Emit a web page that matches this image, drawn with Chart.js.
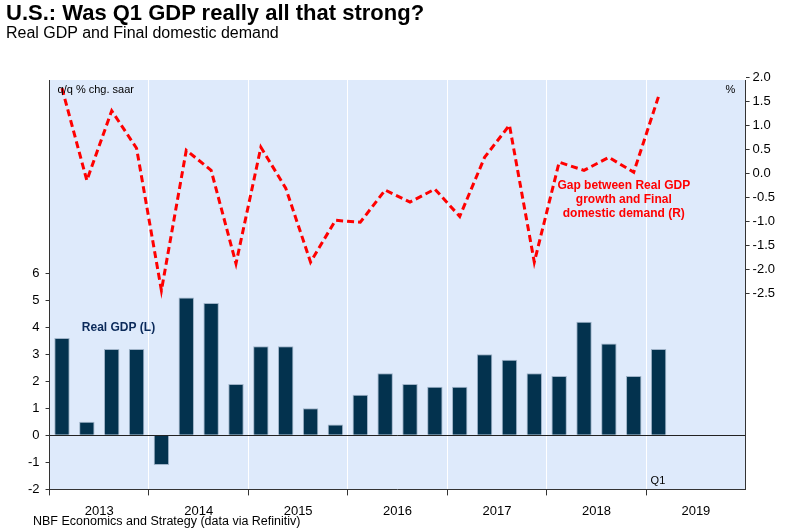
<!DOCTYPE html>
<html><head><meta charset="utf-8">
<script src="https://cdn.jsdelivr.net/npm/chart.js@4"></script>
<style>
body{margin:0;background:#fff;font-family:"Liberation Sans",Arial,sans-serif}
#wrap{position:relative;width:792px;height:532px}
#t{position:absolute;left:6px;top:0px;font-size:22px;font-weight:bold;color:#000}
#s{position:absolute;left:6px;top:24px;font-size:16px;color:#000}
#f{position:absolute;left:33px;top:514px;font-size:12.5px;color:#000}
canvas{position:absolute;left:0;top:0}
</style></head><body>
<div id="wrap">
<canvas id="c" width="792" height="532"></canvas>
<div id="t">U.S.: Was Q1 GDP really all that strong?</div>
<div id="s">Real GDP and Final domestic demand</div>
<div id="f">NBF Economics and Strategy (data via Refinitiv)</div>
</div>
<script>
const years = ['2013', '2014', '2015', '2016', '2017', '2018', '2019']
const quarters = []
years.forEach(y => ['Q1', 'Q2', 'Q3', 'Q4'].forEach(q => quarters.push(y + ' ' + q)))

// real GDP, q/q % chg. saar (2013Q1 - 2019Q1)
const realGdp = [3.6, 0.5, 3.2, 3.2, -1.1, 5.1, 4.9, 1.9, 3.3, 3.3, 1.0, 0.4, 1.5, 2.3, 1.9, 1.8, 1.8, 3.0, 2.8, 2.3, 2.2, 4.2, 3.4, 2.2, 3.2]
// gap between real GDP growth and final domestic demand, %
const gap = [1.77, -0.15, 1.3, 0.52, -2.44, 0.48, 0.06, -1.88, 0.54, -0.31, -1.85, -0.98, -1.02, -0.35, -0.6, -0.33, -0.9, 0.33, 1.0, -1.85, 0.23, 0.06, 0.33, 0.02, 1.6]

const leftTicks = [-2, -1, 0, 1, 2, 3, 4, 5, 6]
const rightTicks = [-2.5, -2.0, -1.5, -1.0, -0.5, 0.0, 0.5, 1.0, 1.5, 2.0]
const yearTicks = [2, 6, 10, 14, 18, 22, 26]

const FONT = '"Liberation Sans", Arial, sans-serif'

const bgPlugin = {
    id: 'bg',
    beforeDraw(chart) {
        const a = chart.chartArea, ctx = chart.ctx
        ctx.save()
        ctx.fillStyle = '#deeafb'
        ctx.fillRect(a.left, a.top, a.right - a.left, a.bottom - a.top)
        ctx.restore()
    },
    afterDraw(chart) {
        const ctx = chart.ctx, a = chart.chartArea
        const x = chart.scales.x, yl = chart.scales.yl
        ctx.save()
        ctx.font = '11px ' + FONT
        ctx.fillStyle = '#000'
        ctx.textBaseline = 'middle'
        ctx.fillText('q/q % chg. saar', a.left + 8, a.top + 10)
        ctx.fillText('%', a.right - 20, a.top + 10)
        ctx.fillText('Q1', x.getPixelForValue(24) - 8, a.bottom - 8)
        ctx.font = 'bold 12px ' + FONT
        ctx.fillStyle = '#0b2a5a'
        ctx.fillText('Real GDP (L)', x.getPixelForValue(1) - 5, yl.getPixelForValue(4.0))
        ctx.fillStyle = '#ff0000'
        ctx.textAlign = 'center'
        const cx = x.getPixelForValue(22.6)
        ctx.fillText('Gap between Real GDP', cx, 186)
        ctx.fillText('growth and Final', cx, 200)
        ctx.fillText('domestic demand (R)', cx, 214)
        ctx.restore()
    }
}

new Chart('c', {
    data: {
        labels: quarters,
        datasets: [
            {
                type: 'line', data: gap, yAxisID: 'yr', borderColor: '#ff0000', borderWidth: 3,
                borderDash: [7, 4], pointRadius: 0, fill: false, tension: 0, order: 0
            },
            {
                type: 'bar', data: realGdp, yAxisID: 'yl', backgroundColor: '#03324e',
                borderColor: '#9fb3c8', borderWidth: 1, barPercentage: 0.62, categoryPercentage: 1, order: 1
            }
        ]
    },
    options: {
        responsive: false, animation: false,
        layout: { padding: { top: 80, left: 22, right: 14, bottom: 13 } },
        plugins: { legend: { display: false }, tooltip: { enabled: false } },
        scales: {
            x: {
                offset: true,
                ticks: { display: false },
                grid: {
                    offset: true, drawTicks: true, tickLength: 6,
                    color: c => c.index % 4 == 0 && c.index > 0 ? '#ffffff' : 'rgba(0,0,0,0)',
                    tickColor: c => c.index % 4 == 0 ? '#333' : 'rgba(0,0,0,0)'
                },
                border: { color: '#333' }
            },
            xYear: {
                type: 'linear', position: 'bottom', min: 0, max: 28,
                afterBuildTicks: s => { s.ticks = yearTicks.map(v => ({ value: v })) },
                ticks: { callback: (v, i) => years[i], font: { size: 13, family: FONT }, color: '#000', padding: 0 },
                grid: { display: false }, border: { display: false }
            },
            yl: {
                position: 'left', min: -2, max: 13.15,
                afterBuildTicks: s => { s.ticks = leftTicks.map(v => ({ value: v })) },
                ticks: { font: { size: 13, family: FONT }, color: '#000', padding: 6 },
                grid: {
                    drawOnChartArea: true, tickLength: 4,
                    color: c => c.tick && c.tick.value === 0 ? '#222' : 'rgba(0,0,0,0)',
                    tickColor: '#333'
                },
                border: { color: '#333' }
            },
            yr: {
                position: 'right', min: -6.58, max: 1.94,
                afterBuildTicks: s => { s.ticks = rightTicks.map(v => ({ value: v })) },
                ticks: { font: { size: 13, family: FONT }, color: '#000', callback: v => v.toFixed(1) },
                grid: { drawOnChartArea: false, tickLength: 4, tickColor: '#333' },
                border: { color: '#333' }
            }
        }
    },
    plugins: [bgPlugin]
})
</script>
</body></html>
